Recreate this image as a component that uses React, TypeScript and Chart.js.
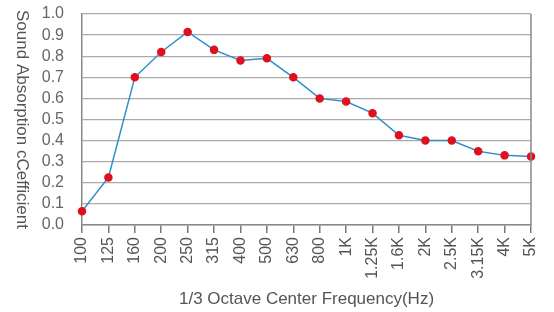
import React, { useEffect, useRef } from "react";
import { Chart, registerables } from "chart.js";

Chart.register(...registerables);

const categories = ["100", "125", "160", "200", "250", "315", "400", "500", "630", "800", "1K", "1.25K", "1.6K", "2K", "2.5K", "3.15K", "4K", "5K"];
const absorption = [0.065, 0.225, 0.70, 0.82, 0.915, 0.83, 0.78, 0.79, 0.70, 0.60, 0.585, 0.53, 0.425, 0.40, 0.40, 0.35, 0.33, 0.325];
const yTitle = "Sound Absorption cCefficient";
const xTitle = "1/3 Octave Center Frequency(Hz)";

const FONT = "'Liberation Sans', Arial, sans-serif";

const framePlugin = {
  id: "frame",
  afterDraw(chart: any) {
    const { ctx, chartArea } = chart;
    ctx.save();
    ctx.strokeStyle = "#888";
    ctx.lineWidth = 1.5;
    ctx.beginPath();
    ctx.moveTo(chartArea.right, chartArea.top);
    ctx.lineTo(chartArea.right, chartArea.bottom);
    ctx.stroke();
    ctx.translate(22, (chartArea.top + chartArea.bottom) / 2);
    ctx.rotate(Math.PI / 2);
    ctx.fillStyle = "#555";
    ctx.font = `17px ${FONT}`;
    ctx.textAlign = "center";
    ctx.textBaseline = "middle";
    ctx.fillText(yTitle, 0, 0);
    ctx.restore();
  },
};

export default function App() {
  const ref = useRef<HTMLCanvasElement>(null);
  useEffect(() => {
    document.body.style.margin = "0";
    const chart = new Chart(ref.current!, {
      type: "line",
      data: {
        labels: categories,
        datasets: [
          {
            data: absorption,
            borderColor: "#2e8fca",
            borderWidth: 1.5,
            pointBackgroundColor: "#e0101c",
            pointBorderColor: "#e0101c",
            pointRadius: 3.5,
            tension: 0,
            fill: false,
          },
        ],
      },
      options: {
        animation: false,
        responsive: false,
        layout: { padding: { left: 0, top: 14, right: 23, bottom: 0 } },
        plugins: { legend: { display: false }, tooltip: { enabled: false } },
        scales: {
          x: {
            offset: false,
            afterFit: (s: any) => {
              s.height = 87;
              s.paddingLeft = 0;
              s.paddingRight = 0;
            },
            grid: { drawOnChartArea: false, drawTicks: true, tickLength: 8, color: "#777", lineWidth: 1.5 },
            border: { color: "#888", width: 1.5 },
            ticks: {
              minRotation: 90,
              maxRotation: 90,
              autoSkip: false,
              color: "#555",
              padding: 4,
              font: { family: FONT, size: 16 },
            },
            title: {
              display: true,
              text: xTitle,
              color: "#555",
              font: { family: FONT, size: 17 },
              padding: { top: 10, bottom: 2 },
            },
          },
          y: {
            min: 0,
            max: 1,
            afterFit: (s: any) => {
              s.width = 82;
              s.paddingTop = 0;
              s.paddingBottom = 0;
            },
            grid: { color: "#aaa", lineWidth: 1.2, drawTicks: false },
            border: { color: "#888", width: 1.5 },
            ticks: {
              stepSize: 0.1,
              autoSkip: false,
              color: "#666",
              padding: 18,
              font: { family: FONT, size: 16 },
              callback: (v: any) => Number(v).toFixed(1),
            },
          },
        },
      },
      plugins: [framePlugin],
    });
    return () => chart.destroy();
  }, []);
  return (
    <div style={{ position: "absolute", left: 0, top: 0, width: 554, height: 312 }}>
      <canvas ref={ref} width={554} height={312} />
    </div>
  );
}
